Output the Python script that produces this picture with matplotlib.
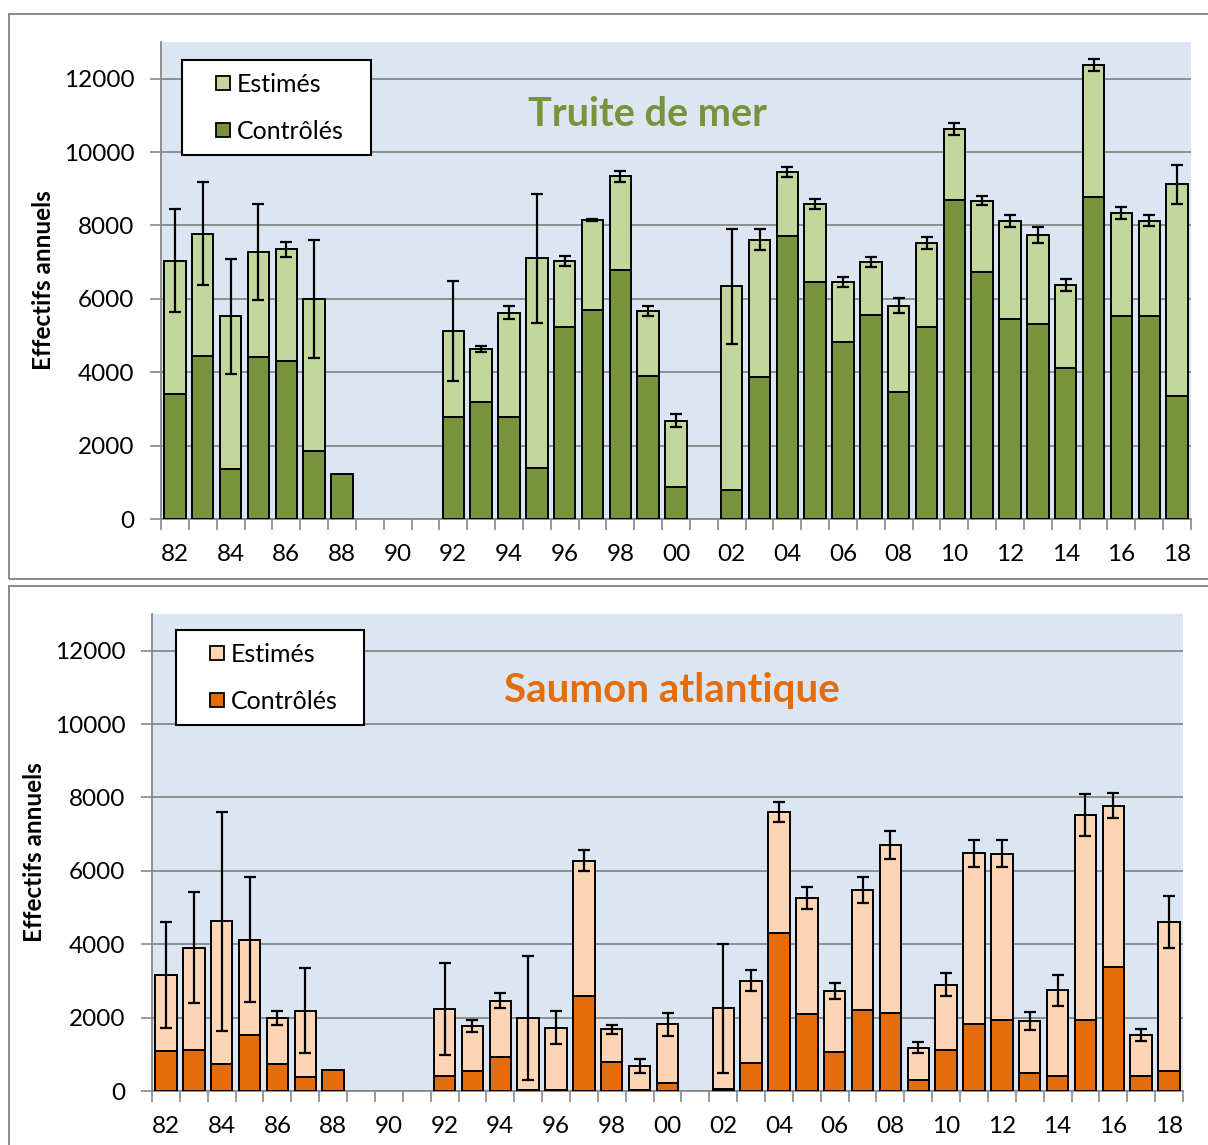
import matplotlib
matplotlib.use("Agg")
import matplotlib.pyplot as plt
from matplotlib.patches import Rectangle
from matplotlib.lines import Line2D
import numpy as np

plt.rcParams['font.family'] = ['Lato', 'DejaVu Sans']

annees = list(range(1982, 2019))
nan = np.nan

# Truite de mer
truite_controles = [3400, 4430, 1360, 4410, 4310, 1850, 1240, nan, nan, nan,
                    2790, 3180, 2790, 1400, 5245, 5700, 6780, 3890, 880, nan,
                    780, 3880, 7720, 6450, 4830, 5560, 3450, 5230, 8700, 6720,
                    5460, 5310, 4120, 8780, 5540, 5540, 3360]
truite_estimes = [3640, 3350, 4160, 2870, 3035, 4150, 0, nan, nan, nan,
                  2340, 1460, 2830, 5700, 1785, 2455, 2560, 1780, 1800, nan,
                  5560, 3730, 1740, 2130, 1620, 1450, 2360, 2300, 1920, 1950,
                  2670, 2430, 2260, 3590, 2800, 2590, 5760]
truite_erreurs = [1410, 1400, 1560, 1310, 215, 1615, nan, nan, nan, nan,
                  1370, 80, 180, 1750, 130, 30, 150, 140, 175, nan,
                  1570, 280, 130, 130, 140, 140, 200, 160, 165, 120,
                  165, 215, 170, 170, 160, 150, 535]

# Saumon atlantique
saumon_controles = [1100, 1120, 740, 1520, 740, 390, 570, nan, nan, nan,
                    410, 545, 935, 30, 30, 2590, 780, 30, 230, nan,
                    45, 765, 4310, 2100, 1065, 2210, 2135, 300, 1125, 1820,
                    1925, 500, 420, 1925, 3390, 420, 535]
saumon_estimes = [2065, 2790, 3880, 2605, 1260, 1800, 0, nan, nan, nan,
                  1825, 1220, 1530, 1970, 1695, 3690, 900, 650, 1590, nan,
                  2210, 2245, 3300, 3155, 1660, 3265, 4575, 875, 1775, 4660,
                  4540, 1410, 2325, 5600, 4385, 1100, 4075]
saumon_erreurs = [1440, 1500, 2990, 1700, 190, 1150, nan, nan, nan, nan,
                  1250, 170, 215, 1690, 445, 295, 120, 195, 310, nan,
                  1760, 280, 270, 300, 225, 360, 375, 150, 310, 370,
                  370, 250, 420, 580, 340, 170, 710]

W, H = 1208, 1145
fig = plt.figure(figsize=(W / 100, H / 100), dpi=100)

grid_col = '#878787'
fond = '#DCE6F2'

# cadres des deux graphiques
fig.patches.append(Rectangle((9 / W, 1 - 579 / H), 1.2, (579 - 14) / H,
                             transform=fig.transFigure, fill=False,
                             edgecolor='#8a8a8a', linewidth=1.4))
fig.patches.append(Rectangle((9 / W, -0.1), 1.2, 0.1 + (1145 - 586) / H,
                             transform=fig.transFigure, fill=False,
                             edgecolor='#8a8a8a', linewidth=1.4))


def panneau(box, controles, estimes, erreurs, c_clair, c_fonce, titre,
            titre_pos, titre_size, leg_box):
    l, t, r, b = box
    ax = fig.add_axes([l / W, 1 - b / H, (r - l) / W, (b - t) / H])
    ax.set_facecolor(fond)
    x = np.arange(len(annees))
    controles = np.array(controles, dtype=float)
    estimes = np.array(estimes, dtype=float)
    erreurs = np.array(erreurs, dtype=float)
    total = controles + estimes

    ax.bar(x, controles, width=0.77, color=c_fonce, edgecolor='black',
           linewidth=1.4, zorder=3)
    mask = estimes > 0
    ax.bar(x[mask], estimes[mask], bottom=controles[mask], width=0.77,
           color=c_clair, edgecolor='black', linewidth=1.4, zorder=3)
    ax.errorbar(x, total, yerr=erreurs, fmt='none', ecolor='black',
                elinewidth=1.6, capsize=4.2, capthick=1.6, zorder=4)

    ax.set_xlim(-0.5, len(annees) - 0.5)
    ax.set_ylim(0, 13000)
    ax.set_yticks(range(0, 13000, 2000))
    ax.yaxis.grid(True, color=grid_col, linewidth=1.3)
    ax.set_axisbelow(True)

    ax.set_xticks(x[::2])
    ax.set_xticklabels(['%02d' % (a % 100) for a in annees[::2]])
    ax.set_xticks(np.arange(-0.5, len(annees), 1), minor=True)
    ax.tick_params(axis='x', which='major', length=0, pad=18, labelsize=17.5)
    ax.tick_params(axis='x', which='minor', length=8, color=grid_col, width=1.2)
    ax.tick_params(axis='y', length=8, color=grid_col, width=1.2, pad=11,
                   labelsize=17.5)

    for s in ['top', 'right']:
        ax.spines[s].set_visible(False)
    for s in ['left', 'bottom']:
        ax.spines[s].set_color(grid_col)
        ax.spines[s].set_linewidth(1.3)

    ax.set_ylabel('Effectifs annuels', fontsize=17.5, fontweight='bold')
    ax.yaxis.set_label_coords(-0.103, 0.5)

    ax.text(titre_pos[0], titre_pos[1], titre, transform=ax.transAxes,
            ha='center', va='center', fontsize=titre_size, fontweight='bold',
            color=c_fonce)

    poignees = [Line2D([], [], linestyle='none', marker='s', markersize=10,
                       markerfacecolor=c, markeredgecolor='black',
                       markeredgewidth=1.3) for c in (c_clair, c_fonce)]
    leg = ax.legend(poignees, ['Estimés', 'Contrôlés'], loc='upper left',
                    bbox_to_anchor=leg_box, mode='expand', borderaxespad=0,
                    fontsize=18, handlelength=2.3, handletextpad=-0.6,
                    labelspacing=0.96, borderpad=0.5, fancybox=False,
                    framealpha=1, edgecolor='black')
    leg.get_frame().set_linewidth(1.5)
    leg.set_zorder(10)
    return ax


panneau((161, 42, 1191, 519), truite_controles, truite_estimes, truite_erreurs,
        '#C3D69B', '#77933C', 'Truite de mer', (0.472, 0.848), 28.5,
        (21 / 1030, 0.5, 189 / 1030, 0.962 - 0.5))
panneau((152, 614, 1183, 1091), saumon_controles, saumon_estimes, saumon_erreurs,
        '#FCD5B5', '#E46C0A', 'Saumon atlantique', (0.504, 0.839), 29,
        (24 / 1031, 0.5, 188 / 1031, 0.966 - 0.5))

fig.savefig('out.png', dpi=100)
